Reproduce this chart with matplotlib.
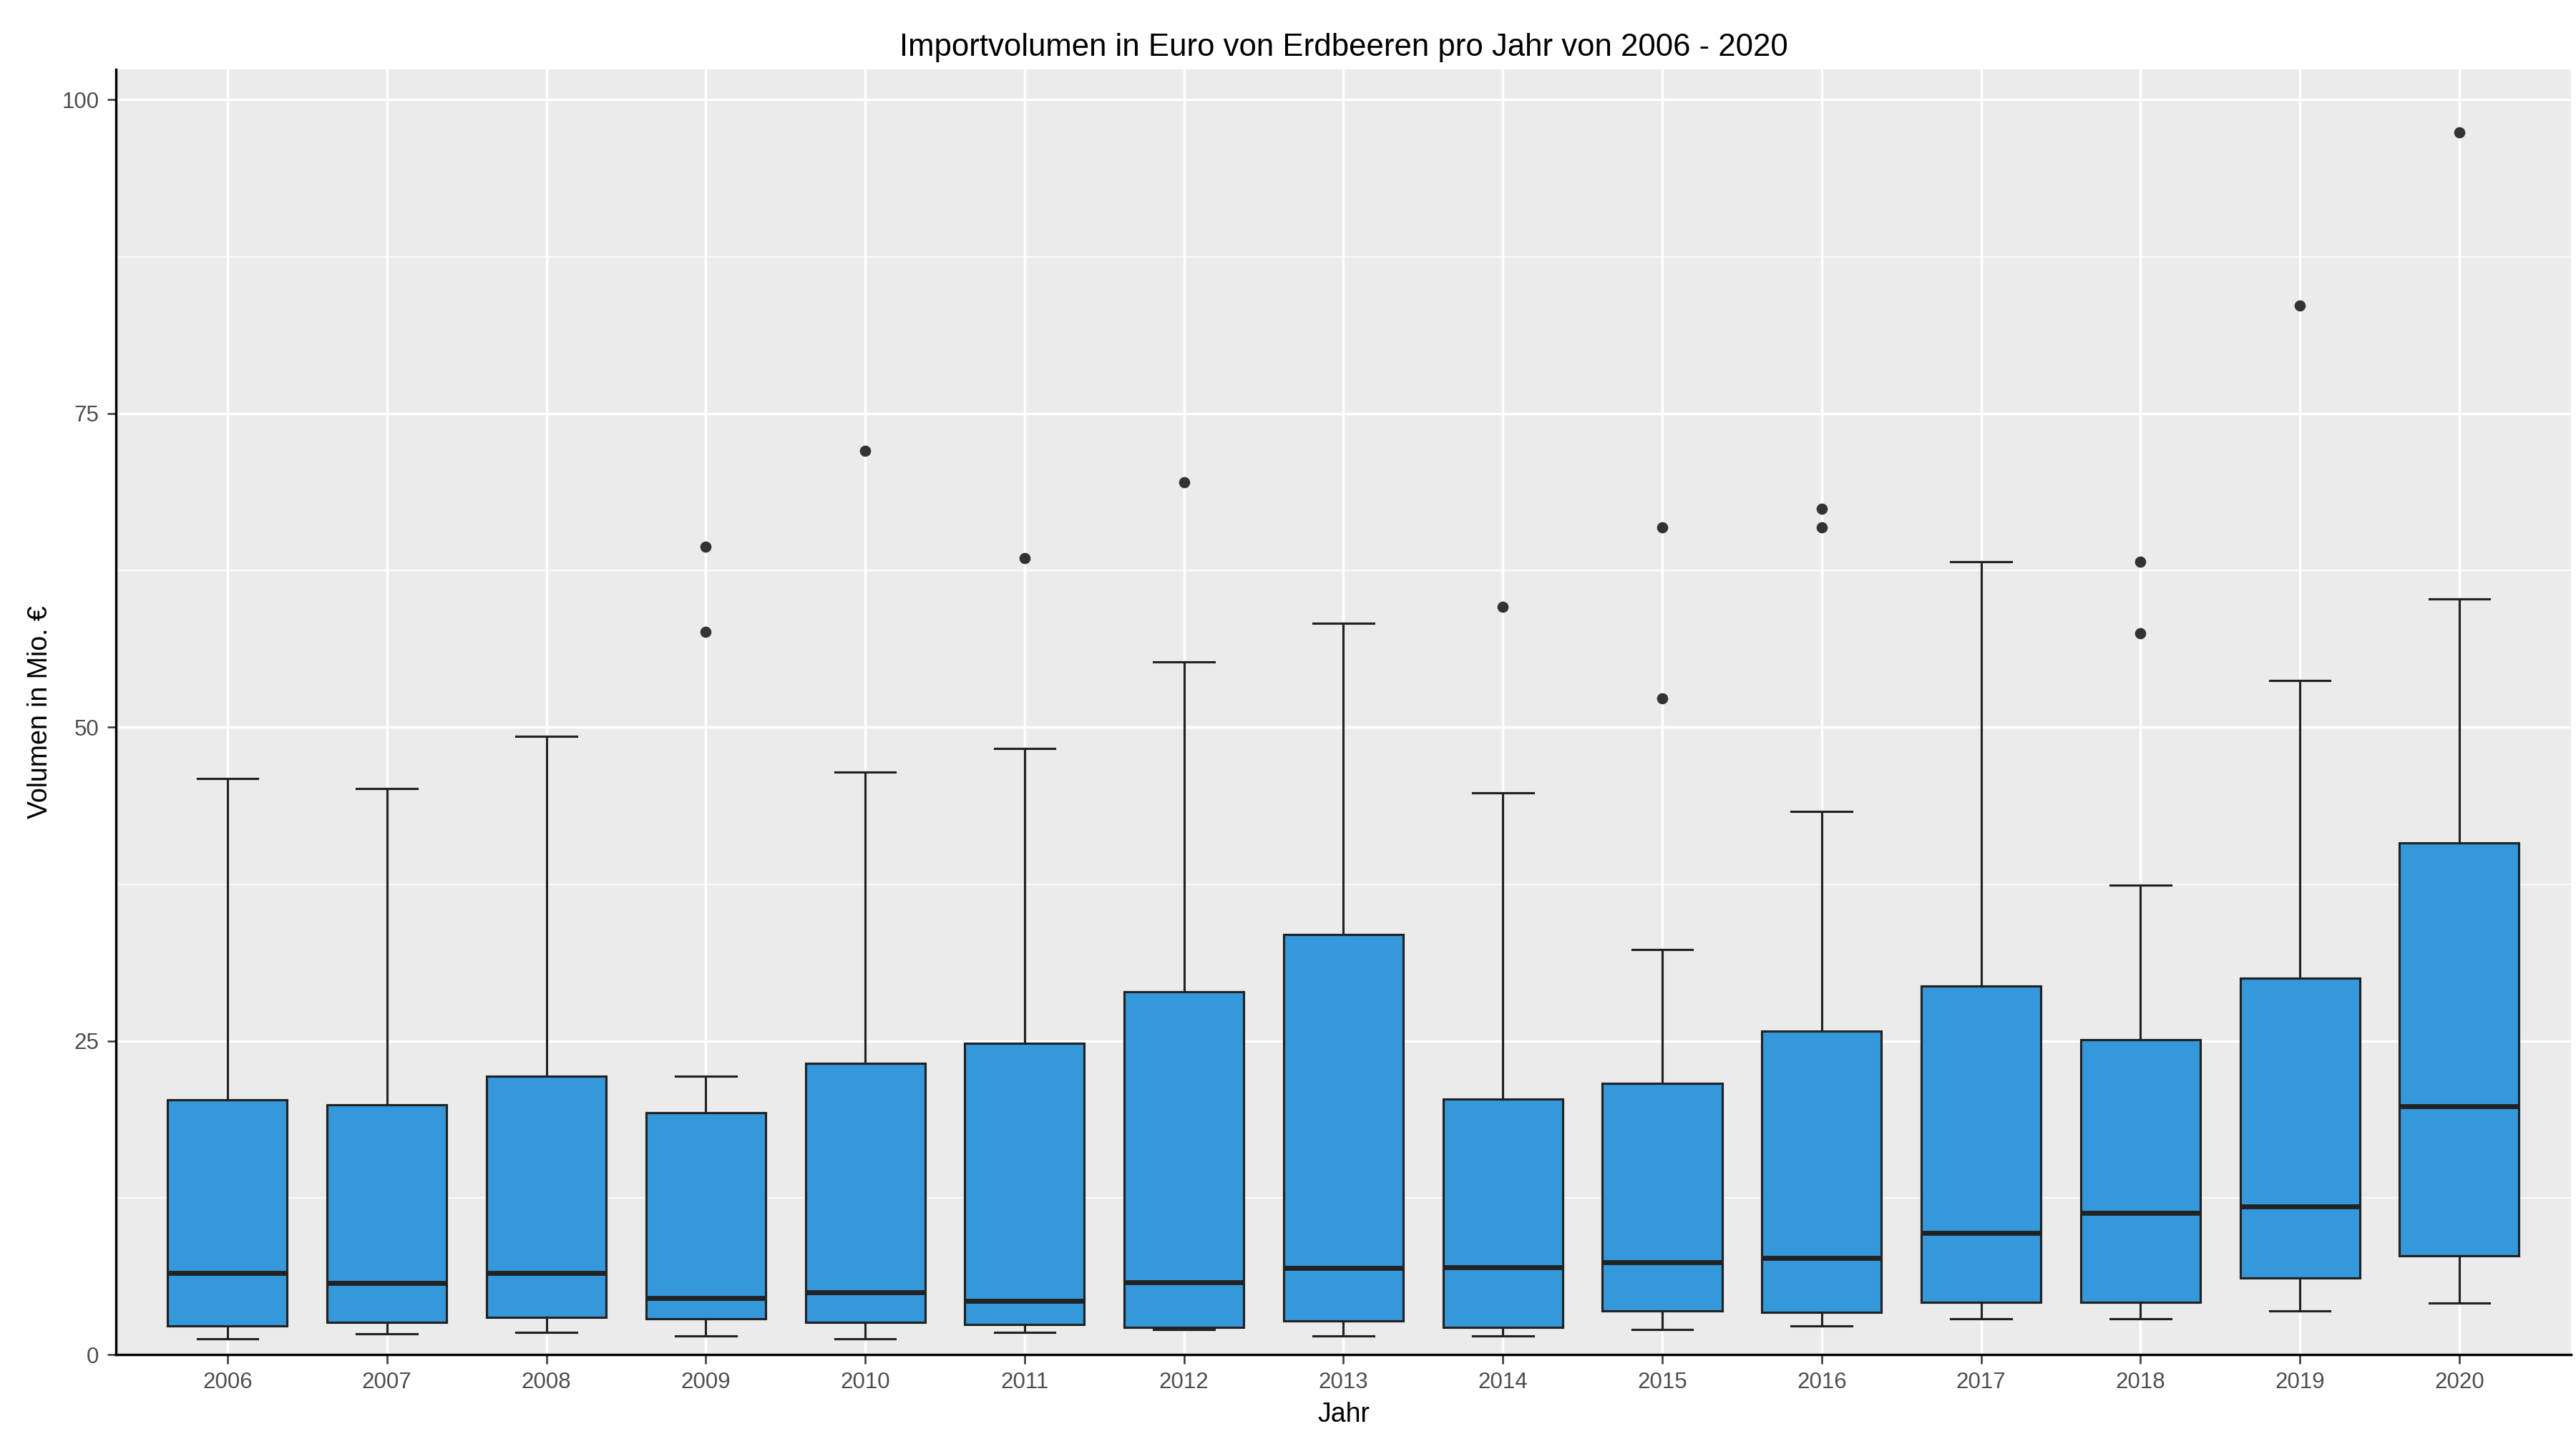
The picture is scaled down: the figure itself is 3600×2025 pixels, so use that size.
import matplotlib
matplotlib.use("Agg")
import matplotlib.pyplot as plt
plt.rcParams['font.family'] = ['Liberation Sans', 'DejaVu Sans']

years = list(range(2006, 2021))
whislo = [1.3, 1.7, 1.8, 1.5, 1.3, 1.8, 2.0, 1.5, 1.5, 2.0, 2.3, 2.9, 2.9, 3.5, 4.1]
q1 = [2.3, 2.6, 3.0, 2.9, 2.6, 2.4, 2.2, 2.7, 2.2, 3.5, 3.4, 4.2, 4.2, 6.1, 7.9]
med = [6.5, 5.7, 6.5, 4.5, 5.0, 4.3, 5.8, 6.9, 7.0, 7.4, 7.7, 9.7, 11.3, 11.8, 19.8]
q3 = [20.3, 19.9, 22.2, 19.3, 23.2, 24.8, 28.9, 33.5, 20.4, 21.6, 25.8, 29.4, 25.1, 30.0, 40.8]
whishi = [45.9, 45.1, 49.3, 22.2, 46.4, 48.3, 55.2, 58.3, 44.8, 32.3, 43.3, 63.2, 37.4, 53.7, 60.2]
fliers = [[], [], [], [57.6, 64.4], [72.0], [63.5], [69.5], [], [59.6],
          [52.3, 65.9], [65.9, 67.4], [], [57.5, 63.2], [83.6], [97.4]]

stats = [dict(label=str(y), whislo=a, q1=b, med=c, q3=d, whishi=e, fliers=f)
         for y, a, b, c, d, e, f in zip(years, whislo, q1, med, q3, whishi, fliers)]

fig = plt.figure(figsize=(16, 9), dpi=225)
ax = fig.add_axes([0.045, 0.065, 0.953, 0.887])
ax.set_facecolor("#EBEBEB")
ax.bxp(stats, positions=range(1, 16), widths=0.75, patch_artist=True,
       boxprops=dict(facecolor="#3498DB", edgecolor="#222222", linewidth=1),
       medianprops=dict(color="#222222", linewidth=2.2),
       whiskerprops=dict(color="#222222", linewidth=1),
       capprops=dict(color="#222222", linewidth=1),
       capwidths=0.38,
       flierprops=dict(marker="o", markerfacecolor="#333333", markeredgecolor="#333333", markersize=4))
ax.set_xlim(0.3, 15.7)
ax.set_ylim(0, 102.4)
ax.set_yticks([0, 25, 50, 75, 100])
ax.set_yticks([12.5, 37.5, 62.5, 87.5], minor=True)
ax.grid(True, which="major", color="white", linewidth=1.1)
ax.grid(True, which="minor", axis="y", color="white", linewidth=0.5)
ax.set_axisbelow(True)
for s in ["top", "right"]:
    ax.spines[s].set_visible(False)
for s in ["left", "bottom"]:
    ax.spines[s].set_color("black")
    ax.spines[s].set_linewidth(1.1)
ax.tick_params(which="minor", length=0)
ax.tick_params(which="major", length=4, color="#333333", labelsize=10, labelcolor="#4D4D4D")
ax.set_xlabel("Jahr", fontsize=12)
ax.set_ylabel("Volumen in Mio. €", fontsize=12)
ax.set_title("Importvolumen in Euro von Erdbeeren pro Jahr von 2006 - 2020", fontsize=14)
fig.savefig("out.png", dpi=225)
